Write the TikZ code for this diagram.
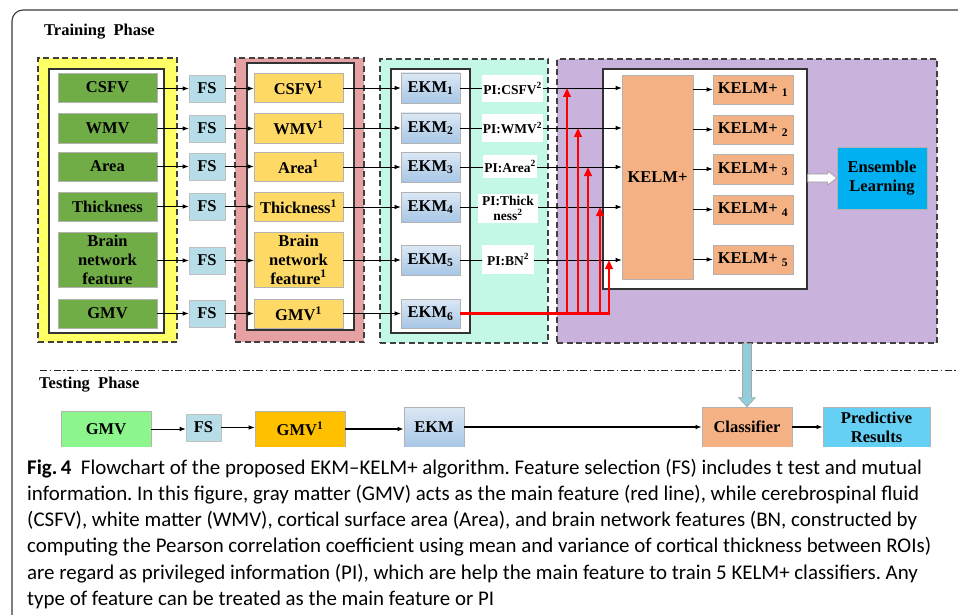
\documentclass[tikz,border=0pt]{standalone}
\usepackage{fontspec}
\setmainfont{Liberation Serif}
\newfontfamily\capfont{Carlito}
\usetikzlibrary{arrows.meta,calc}
\frenchspacing

\definecolor{frameclr}{HTML}{3A3A3A}
\definecolor{yellowzone}{HTML}{FFFF66}
\definecolor{pinkzone}{HTML}{E6A2A2}
\definecolor{mintzone}{HTML}{C4F8E6}
\definecolor{lilaczone}{HTML}{C9B3DD}
\definecolor{featgreen}{HTML}{70AD47}
\definecolor{fsblue}{HTML}{B7DEE8}
\definecolor{selorange}{HTML}{FFD966}
\definecolor{ekmtop}{HTML}{DCE8F5}
\definecolor{ekmbot}{HTML}{A7C6E5}
\definecolor{kelmorange}{HTML}{F4B183}
\definecolor{ensblue}{HTML}{00B0F0}
\definecolor{testgreen}{HTML}{8CF58C}
\definecolor{testgold}{HTML}{FFC000}
\definecolor{resultblue}{HTML}{66CFF4}
\definecolor{downteal}{HTML}{92CDDC}
\definecolor{mainred}{HTML}{FF0000}

\tikzset{
  zone/.style={draw=black!75, line width=1.1pt, dash pattern=on 6pt off 3.5pt, inner sep=0pt},
  holder/.style={draw=black!80, fill=white, line width=1.4pt, inner sep=0pt},
  boxbase/.style={draw=black!30, line width=0.6pt, inner sep=0pt, align=center,
    font=\fontsize{16.5}{19}\selectfont\bfseries},
  feat/.style={boxbase, fill=featgreen},
  fsbox/.style={boxbase, fill=fsblue, draw=black!25},
  sel/.style={boxbase, fill=selorange},
  ekmbox/.style={boxbase, top color=ekmtop, bottom color=ekmbot},
  pilab/.style={boxbase, draw=none, fill=white, font=\fontsize{13.5}{15}\selectfont\bfseries},
  kelmbox/.style={boxbase, fill=kelmorange},
  ensbox/.style={boxbase, fill=ensblue, draw=black!30},
  flow/.style={-{Latex[length=6pt,width=4.5pt]}, line width=0.8pt, black},
  link/.style={line width=0.8pt, black},
  mainflow/.style={draw=mainred, line width=2.4pt},
  mainarrow/.style={draw=mainred, fill=mainred, line width=2.4pt,
    -{Triangle[length=9pt,width=7.5pt]}},
  phase/.style={anchor=west, inner sep=0pt, font=\fontsize{16.5}{18}\selectfont\bfseries},
  capline/.style={anchor=base west, inner sep=0pt, font=\capfont\fontsize{20.9}{24}\selectfont},
}

% \placebox{name}{x1}{y1}{x2}{y2}{style}{text}
\newcommand\placebox[7]{%
  \node[#6, minimum width={#4-#2}, minimum height={#5-#3}] (#1)
    at ({(#2+#4)/2},{(#3+#5)/2}) {#7};}

\begin{document}
\begin{tikzpicture}[x=1pt, y=-1pt]
\useasboundingbox (0,0) rectangle (958,615);
\fill[white] (0,0) rectangle (958,615);

% ---------------- training phase ----------------
\node[phase] (trainlabel) at (44,32) {Training\ \ Phase};

% grouping zones
\placebox{zoneraw}{38}{58}{177}{342}{zone, fill=yellowzone}{}
\placebox{zonesel}{235}{58}{364}{342}{zone, fill=pinkzone}{}
\placebox{zoneekm}{380}{59}{548}{343}{zone, fill=mintzone}{}
\placebox{zonekelm}{557}{59}{937}{343}{zone, fill=lilaczone}{}

\placebox{holdraw}{49}{69}{164}{333}{holder}{}
\placebox{holdsel}{247}{63}{354}{330}{holder}{}
\placebox{holdekm}{391}{69}{470}{333}{holder}{}
\placebox{holdkelm}{603}{69}{807}{289}{holder}{}

% raw features
\placebox{csfv}{58}{73}{157}{102}{feat}{CSFV}
\placebox{wmv}{58}{113}{157}{143}{feat}{WMV}
\placebox{area}{58}{152}{157}{181}{feat}{Area}
\placebox{thick}{58}{192}{157}{221}{feat}{Thickness}
\placebox{bn}{58}{232}{157}{287}{feat}{Brain\\network\\feature}
\placebox{gmv}{58}{299}{157}{328}{feat}{GMV}

% feature selection
\placebox{fs1}{189}{75}{225}{102}{fsbox}{FS}
\placebox{fs2}{189}{115}{225}{142}{fsbox}{FS}
\placebox{fs3}{189}{153}{225}{180}{fsbox}{FS}
\placebox{fs4}{189}{193}{225}{220}{fsbox}{FS}
\placebox{fs5}{189}{247}{225}{274}{fsbox}{FS}
\placebox{fs6}{189}{300}{225}{327}{fsbox}{FS}

% selected features
\placebox{sel1}{254}{73}{343}{102}{sel}{CSFV\textsuperscript{1}}
\placebox{sel2}{254}{113}{343}{143}{sel}{WMV\textsuperscript{1}}
\placebox{sel3}{254}{152}{343}{181}{sel}{Area\textsuperscript{1}}
\placebox{sel4}{254}{192}{343}{221}{sel}{Thickness\textsuperscript{1}}
\placebox{sel5}{254}{232}{343}{287}{sel}{Brain\\network\\feature\textsuperscript{1}}
\placebox{sel6}{254}{299}{343}{328}{sel}{GMV\textsuperscript{1}}

% empirical kernel mapping
\placebox{ekm1}{401}{73}{460}{103}{ekmbox}{EKM\textsubscript{1}}
\placebox{ekm2}{401}{113}{460}{143}{ekmbox}{EKM\textsubscript{2}}
\placebox{ekm3}{401}{152}{460}{182}{ekmbox}{EKM\textsubscript{3}}
\placebox{ekm4}{401}{192}{460}{222}{ekmbox}{EKM\textsubscript{4}}
\placebox{ekm5}{401}{245}{460}{275}{ekmbox}{EKM\textsubscript{5}}
\placebox{ekm6}{401}{299}{460}{328}{ekmbox}{EKM\textsubscript{6}}

% privileged information labels
\placebox{pi1}{482}{75}{543}{102}{pilab}{PI:CSFV\textsuperscript{2}}
\placebox{pi2}{482}{114}{543}{142}{pilab}{PI:WMV\textsuperscript{2}}
\placebox{pi3}{483}{155}{537}{178}{pilab}{PI:Area\textsuperscript{2}}
\placebox{pi4}{478}{194}{538}{223}{pilab}{PI:Thick\\ness\textsuperscript{2}}
\placebox{pi5}{482}{245}{534}{274}{pilab}{PI:BN\textsuperscript{2}}

% KELM+ training
\placebox{kelm}{622}{75}{693}{279}{kelmbox}{KELM+}
\placebox{kp1}{713}{75}{793}{104}{kelmbox}{KELM+ \textsubscript{1}}
\placebox{kp2}{713}{115}{793}{144}{kelmbox}{KELM+ \textsubscript{2}}
\placebox{kp3}{713}{154}{793}{184}{kelmbox}{KELM+ \textsubscript{3}}
\placebox{kp4}{713}{195}{793}{224}{kelmbox}{KELM+ \textsubscript{4}}
\placebox{kp5}{713}{245}{793}{274}{kelmbox}{KELM+ \textsubscript{5}}
\placebox{ens}{837}{147}{927}{209}{ensbox}{Ensemble\\Learning}

% connectors: raw -> FS -> selected -> EKM
\foreach \src/\fs/\sel/\ekm in {csfv/fs1/sel1/ekm1, wmv/fs2/sel2/ekm2, area/fs3/sel3/ekm3,
                                 thick/fs4/sel4/ekm4, bn/fs5/sel5/ekm5, gmv/fs6/sel6/ekm6}{
  \draw[flow] (\fs.west -| \src.east) -- (\fs.west);
  \draw[flow] (\fs.east) -- (\fs.east -| \sel.west);
  \draw[flow] (\ekm.west -| \sel.east) -- (\ekm.west);
}

% EKM -> PI -> KELM+
\foreach \ekm/\lab in {ekm1/pi1, ekm2/pi2, ekm3/pi3, ekm4/pi4, ekm5/pi5}{
  \draw[link] (\ekm.east) -- (\ekm.east -| \lab.west);
  \draw[flow] (\ekm.east -| \lab.east) -- (\ekm.east -| kelm.west);
}

% main feature (red) feeding every KELM+ model
\coordinate (jn1) at (567,0);
\coordinate (jn2) at (578,0);
\coordinate (jn3) at (588,0);
\coordinate (jn4) at (600,0);
\coordinate (jn5) at (609,0);
\draw[mainflow] (ekm6.east) -- ([xshift=1.2pt]ekm6.east -| jn5);
\foreach \j/\ekm in {jn1/ekm1, jn2/ekm2, jn3/ekm3, jn4/ekm4, jn5/ekm5}{
  \draw[mainarrow] ([yshift=1.2pt]ekm6.east -| \j) -- (\ekm.east -| \j);
}

% KELM+ -> individual classifiers
\foreach \k in {kp1,kp2,kp3,kp4,kp5}{
  \draw[flow] (\k.west -| kelm.east) -- (\k.west);
}

% hollow arrow to ensemble learning
\coordinate (ha) at (holdkelm.east |- ens.west);
\draw[fill=white, draw=black!40, line width=0.6pt]
  ($(ha)+(0,-4)$) -- ++(20,0) -- ++(0,-3) -- (ens.west) -- ++(-9,7)
  -- ++(0,-3) -- ($(ha)+(0,4)$) -- cycle;

% ---------------- testing phase ----------------
\draw[line width=0.9pt, black!85, dash pattern=on 7pt off 2.5pt on 1.5pt off 2.5pt]
  (40,370) -- (958,370);
\node[phase] (testlabel) at (39,385) {Testing\ \ Phase};

\placebox{tgmv}{61}{411}{151}{447}{boxbase, fill=testgreen}{GMV}
\placebox{tfs}{186}{414}{221}{441}{fsbox}{FS}
\placebox{tsel}{255}{411}{345}{447}{boxbase, fill=testgold}{GMV\textsuperscript{1}}
\placebox{tekm}{404}{407}{464}{447}{ekmbox}{EKM}
\placebox{cls}{702}{407}{792}{447}{kelmbox}{Classifier}
\placebox{res}{823}{407}{930}{447}{boxbase, fill=resultblue}{Predictive\\Results}

\draw[flow] (tgmv.east) -- (tgmv.east -| tfs.west);
\draw[flow] (tfs.east) -- (tfs.east -| tsel.west);
\draw[flow, line width=1.1pt] (tsel.east) -- (tsel.east -| tekm.west);
\draw[flow, line width=1.1pt] (tekm.east) -- (tekm.east -| cls.west);
\draw[flow, line width=1.3pt] (cls.east) -- (cls.east -| res.west);

% trained model handed to the classifier
\draw[fill=downteal, draw=black!35, line width=0.6pt]
  (cls.north) -- ++(-8.5,-9) -- ++(4,0) |- (zonekelm.south -| cls.north)
  -- ++(4.5,0) -- ++(0,54) -- ++(4,0) -- cycle;

% caption strip cuts the lower edge of the testing row
\fill[white] (13,446.5) rectangle (958,615);

% outer frame
\draw[frameclr, line width=1.1pt, rounded corners=11pt] (12,616) -- (12,10) -- (959,10);

% ---------------- caption ----------------
\node[capline] (cap1) at (27,474) {\textbf{Fig.\,4}\ \ Flowchart of the proposed EKM–KELM+ algorithm. Feature selection (FS) includes t test and mutual};
\node[capline] (cap2) at (27,500.3) {information. In this figure, gray matter (GMV) acts as the main feature (red line), while cerebrospinal fluid};
\node[capline] (cap3) at (27,526.6) {(CSFV), white matter (WMV), cortical surface area (Area), and brain network features (BN, constructed by};
\node[capline] (cap4) at (27,552.9) {computing the Pearson correlation coefficient using mean and variance of cortical thickness between ROIs)};
\node[capline] (cap5) at (27,579.2) {are regard as privileged information (PI), which are help the main feature to train 5 KELM+ classifiers. Any};
\node[capline] (cap6) at (27,605.5) {type of feature can be treated as the main feature or PI};
\end{tikzpicture}
\end{document}
